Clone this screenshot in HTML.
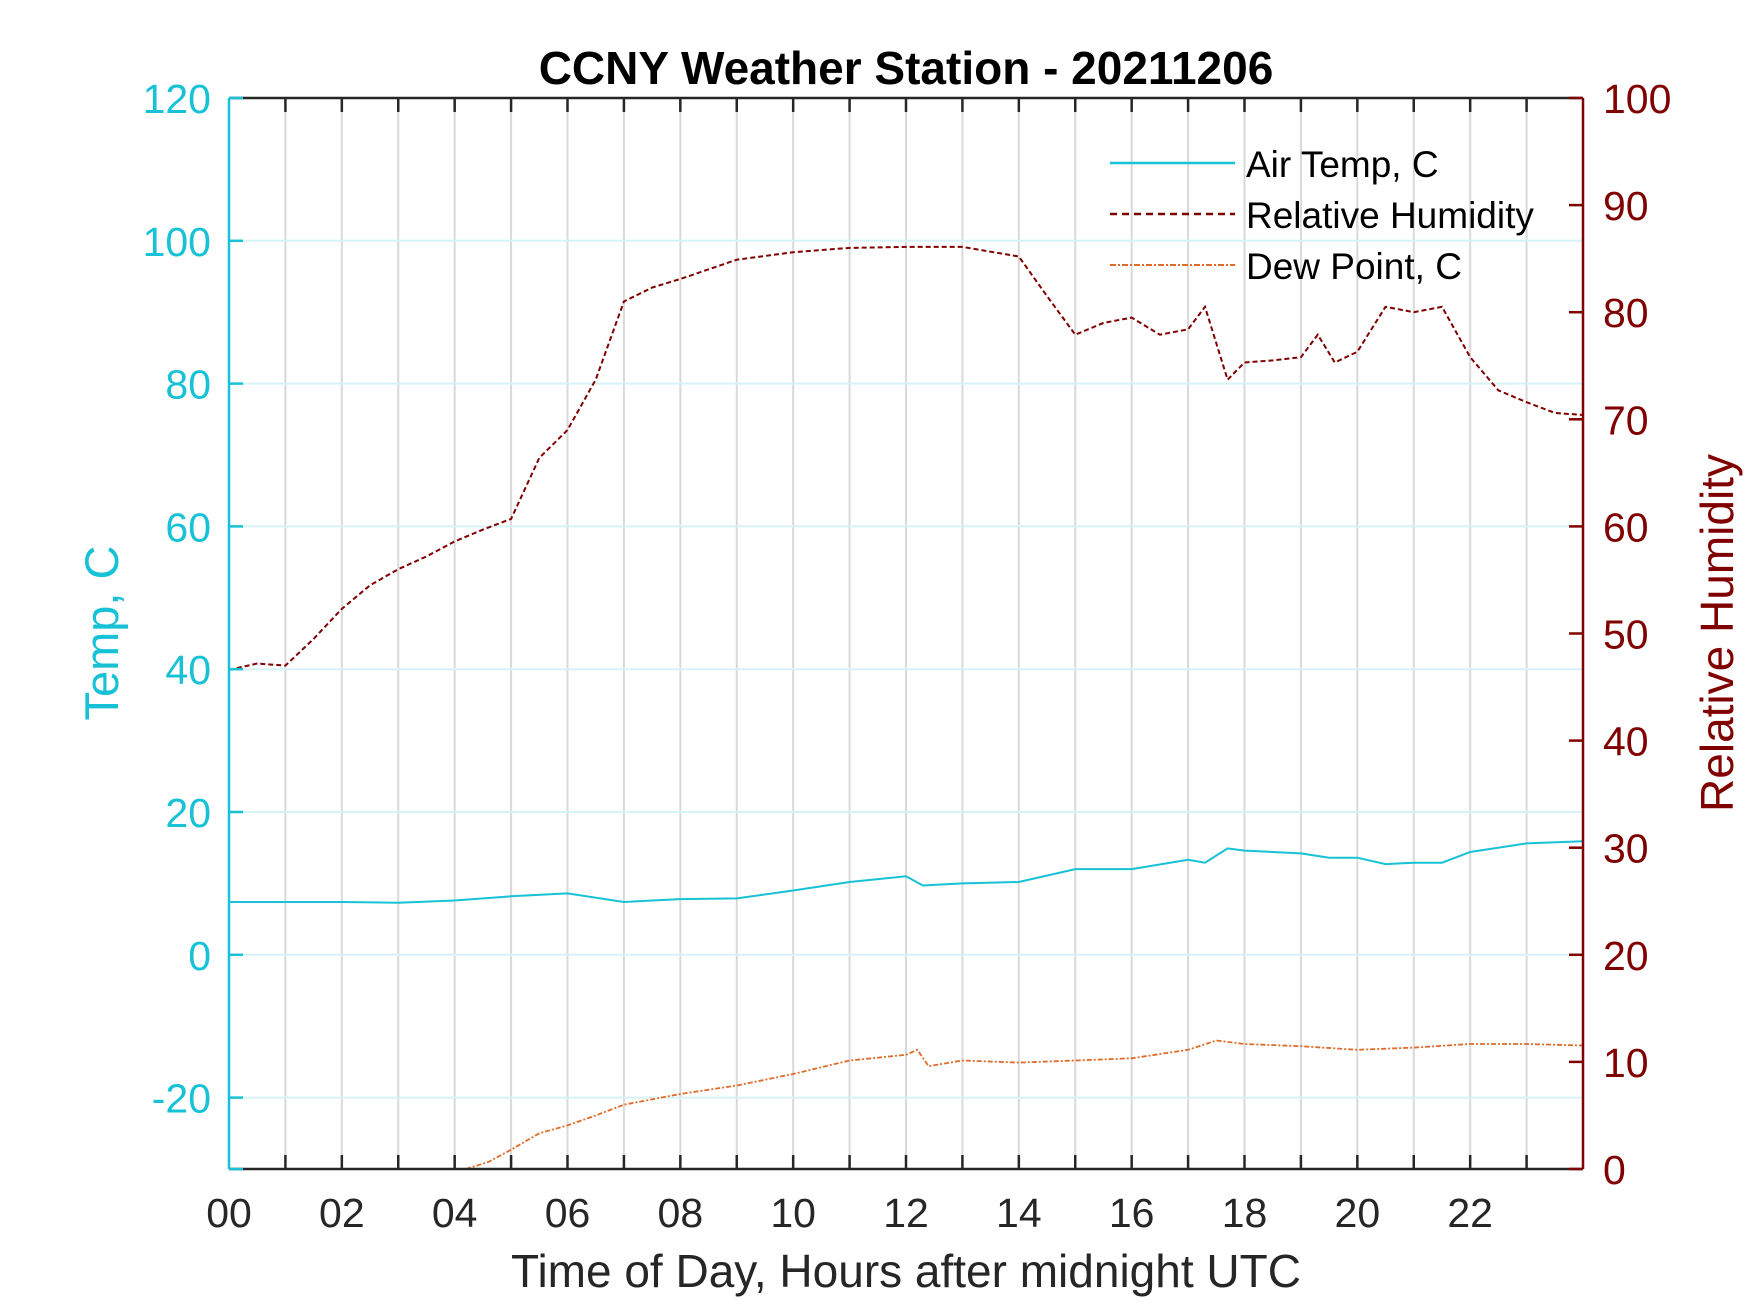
<!DOCTYPE html>
<html><head><meta charset="utf-8"><style>
body{margin:0;background:#fff}
svg{display:block;font-family:"Liberation Sans",Arial,sans-serif}
</style></head><body>
<svg id="chart" width="1750" height="1313" viewBox="0 0 1750 1313">
<rect width="1750" height="1313" fill="#fff"/>
<g id="grid"></g>
<g id="series"></g>
<g id="axes"></g>
<text x="906" y="84" text-anchor="middle" font-size="46" font-weight="bold" fill="#000">CCNY Weather Station - 20211206</text>
<text x="906" y="1287" text-anchor="middle" font-size="46" fill="#262626">Time of Day, Hours after midnight UTC</text>
<text transform="translate(118,633) rotate(-90)" text-anchor="middle" font-size="47" fill="#17c1d6">Temp, C</text>
<text transform="translate(1733,633) rotate(-90)" text-anchor="middle" font-size="46" fill="#800000">Relative Humidity</text>
<g>
<line x1="1110" y1="163" x2="1235" y2="163" stroke="#17c1d6" stroke-width="2.5"/>
<text x="1246" y="177" font-size="37" fill="#000">Air Temp, C</text>
<line x1="1110" y1="214" x2="1235" y2="214" stroke="#800000" stroke-width="2.5" stroke-dasharray="7,5"/>
<text x="1246" y="228" font-size="37" fill="#000">Relative Humidity</text>
<line x1="1110" y1="265" x2="1235" y2="265" stroke="#e06a2a" stroke-width="2" stroke-dasharray="6,2,2,2"/>
<text x="1246" y="279" font-size="37" fill="#000">Dew Point, C</text>
</g>
</svg>
<script>
const tempHours=[0,1,2,3,4,5,6,7,8,9,10,11,12,12.3,13,14,15,16,17,17.3,17.7,18,19,19.5,20,20.5,21,21.5,22,23,24];
const tempValues=[7.4,7.4,7.4,7.3,7.6,8.2,8.6,7.4,7.8,7.9,9.0,10.2,11.0,9.7,10.0,10.2,12.0,12.0,13.3,12.9,14.9,14.6,14.2,13.6,13.6,12.7,12.9,12.9,14.4,15.6,15.9];
const rhHours=[0,0.5,1,1.5,2,2.5,3,3.5,4,4.5,5,5.5,6,6.5,7,7.5,8,9,10,11,12,13,14,14.5,15,15.5,16,16.5,17,17.3,17.7,18,18.5,19,19.3,19.6,20,20.5,21,21.5,22,22.5,23,23.5,24];
const rhValues=[46.6,47.2,47.0,49.5,52.3,54.5,56.0,57.2,58.6,59.7,60.7,66.4,69.0,73.7,81.0,82.3,83.1,84.9,85.6,86.0,86.1,86.1,85.2,81.5,77.9,79.0,79.5,77.9,78.4,80.5,73.7,75.3,75.5,75.8,77.9,75.3,76.3,80.5,80.0,80.5,75.8,72.7,71.6,70.6,70.4];
const dewHours=[4.2,4.6,5,5.5,6,6.5,7,8,9,10,11,12,12.2,12.4,13,14,15,16,17,17.5,18,19,20,21,22,23,24];
const dewValues=[-30,-29,-27.3,-25,-23.9,-22.5,-21,-19.5,-18.3,-16.7,-14.8,-14,-13.3,-15.6,-14.8,-15.1,-14.8,-14.5,-13.3,-12,-12.5,-12.8,-13.3,-13,-12.5,-12.5,-12.7];
const xTicks=[0,2,4,6,8,10,12,14,16,18,20,22];
const leftTicks=[-20,0,20,40,60,80,100,120];
const rightTicks=[0,10,20,30,40,50,60,70,80,90,100];

const L=229,R=1583,T=98,B=1169;
const ns="http://www.w3.org/2000/svg";
const xS=h=>L+(R-L)*h/24;
const yL=v=>B-(B-T)*(v+30)/150;
const yR=v=>B-(B-T)*v/100;
function mk(tag,attrs,parent,txt){const e=document.createElementNS(ns,tag);for(const k in attrs)e.setAttribute(k,attrs[k]);if(txt!==undefined)e.textContent=txt;document.getElementById(parent).appendChild(e);return e;}

for(let h=1;h<24;h++){
  const g=mk('line',{x1:xS(h),x2:xS(h),y1:T,y2:B,stroke:'#d9d9d9','stroke-width':2},'grid');
  
  
}
leftTicks.forEach(v=>{
  const g=mk('line',{x1:L,x2:R,y1:yL(v),y2:yL(v),stroke:'#d6f3f7','stroke-width':2},'grid');
  
  
});

function path(hs,vs,yf,attrs,name){
  const d=hs.map((h,i)=>(i?'L':'M')+xS(h).toFixed(1)+' '+yf(vs[i]).toFixed(1)).join(' ');
  const p=mk('path',Object.assign({d:d,fill:'none'},attrs),'series');
  
  
}
path(tempHours,tempValues,yL,{stroke:'#17c1d6','stroke-width':2},'air-temp-line');
path(rhHours,rhValues,yR,{stroke:'#800000','stroke-width':2,'stroke-dasharray':'5,3'},'relative-humidity-line');
path(dewHours,dewValues,yL,{stroke:'#e06a2a','stroke-width':1.8,'stroke-dasharray':'5,2,2,2'},'dew-point-line');

mk('line',{x1:L,x2:R,y1:T,y2:T,stroke:'#262626','stroke-width':2.5},'axes');
mk('line',{x1:L,x2:R,y1:B,y2:B,stroke:'#262626','stroke-width':2.5},'axes');
mk('line',{x1:L,x2:L,y1:T,y2:B,stroke:'#17c1d6','stroke-width':2.5},'axes');
mk('line',{x1:R,x2:R,y1:T,y2:B,stroke:'#800000','stroke-width':2.5},'axes');
for(let h=1;h<24;h++){
  mk('line',{x1:xS(h),x2:xS(h),y1:B,y2:B-14,stroke:'#262626','stroke-width':2.5},'axes');
  mk('line',{x1:xS(h),x2:xS(h),y1:T,y2:T+14,stroke:'#262626','stroke-width':2.5},'axes');
}
xTicks.forEach(h=>{
  const t=mk('text',{x:xS(h),y:B+58,'text-anchor':'middle','font-size':41,fill:'#262626'},'axes',String(h).padStart(2,'0'));
  
  
});
leftTicks.concat([-30]).forEach(v=>{
  mk('line',{x1:L,x2:L+14,y1:yL(v),y2:yL(v),stroke:'#17c1d6','stroke-width':2.5},'axes');
});
leftTicks.forEach(v=>{
  const t=mk('text',{x:L-18,y:yL(v)+15,'text-anchor':'end','font-size':41,fill:'#17c1d6'},'axes',String(v));
  
  
});
rightTicks.forEach(v=>{
  mk('line',{x1:R-14,x2:R,y1:yR(v),y2:yR(v),stroke:'#800000','stroke-width':2.5},'axes');
  const t=mk('text',{x:R+20,y:yR(v)+15,'text-anchor':'start','font-size':41,fill:'#800000'},'axes',String(v));
  
  
});
</script>
</body></html>
